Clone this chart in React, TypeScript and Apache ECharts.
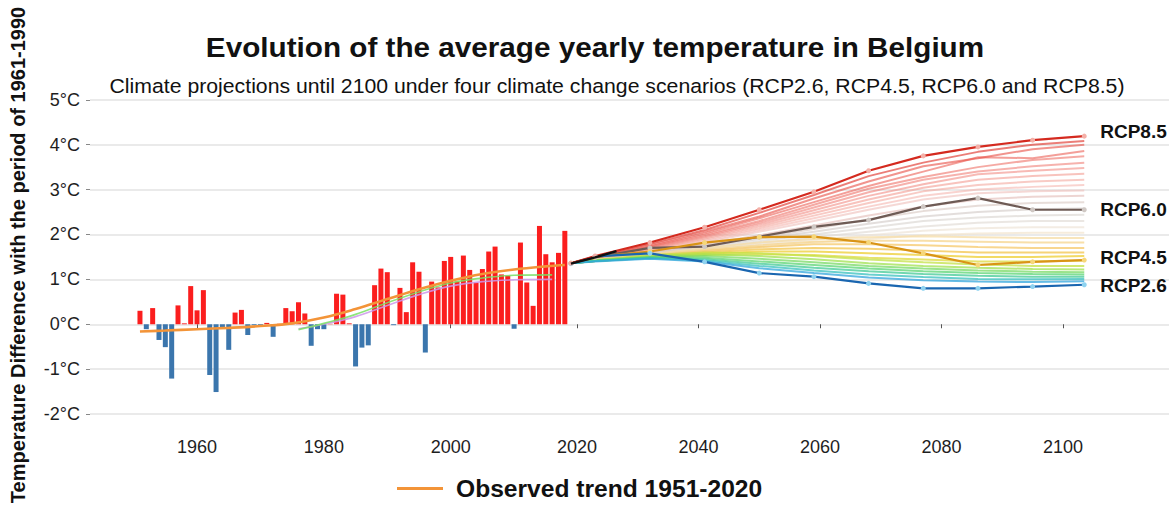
import React, { useEffect, useRef } from 'react';
import * as echarts from 'echarts';

const FONT = '"Liberation Sans", Arial, Helvetica, sans-serif';

// Observed yearly anomalies (°C vs 1961-1990)
const obsYears = [
  1951, 1952, 1953, 1954, 1955, 1956, 1957, 1958, 1959, 1960,
  1961, 1962, 1963, 1964, 1965, 1966, 1967, 1968, 1969, 1970,
  1971, 1972, 1973, 1974, 1975, 1976, 1977, 1978, 1979, 1980,
  1981, 1982, 1983, 1984, 1985, 1986, 1987, 1988, 1989, 1990,
  1991, 1992, 1993, 1994, 1995, 1996, 1997, 1998, 1999, 2000,
  2001, 2002, 2003, 2004, 2005, 2006, 2007, 2008, 2009, 2010,
  2011, 2012, 2013, 2014, 2015, 2016, 2017, 2018,
];
const obsAnomalies = [
  0.30, -0.11, 0.36, -0.35, -0.51, -1.21, 0.42, 0.02, 0.85, 0.31,
  0.76, -1.13, -1.51, -0.07, -0.57, 0.26, 0.32, -0.24, -0.02, -0.02,
  0.03, -0.28, 0.01, 0.36, 0.29, 0.49, 0.24, -0.48, -0.11, -0.11,
  0.01, 0.68, 0.66, 0.02, -0.94, -0.52, -0.47, 0.87, 1.24, 1.16,
  -0.02, 0.81, 0.27, 1.38, 1.17, -0.63, 0.95, 0.82, 1.41, 1.50,
  0.95, 1.53, 1.21, 0.93, 1.23, 1.62, 1.73, 1.11, 1.08, -0.10,
  1.82, 0.93, 0.41, 2.19, 1.56, 1.38, 1.59, 2.08,
];

// Observed trend (smoothed)
const trendYears = [1951, 1955, 1960, 1965, 1970, 1975, 1980, 1985, 1990, 1995, 2000, 2005, 2010, 2015, 2018];
const trendValues = [-0.16, -0.14, -0.11, -0.08, -0.04, 0.02, 0.15, 0.34, 0.56, 0.78, 0.97, 1.12, 1.22, 1.29, 1.32];

// Faint alternative trend estimates
const altTrendYears = [1976, 1980, 1985, 1990, 1995, 2000, 2005, 2010, 2016];
const altTrendGreen = [-0.12, 0.02, 0.22, 0.48, 0.72, 0.92, 1.03, 1.09, 1.10];
const altTrendPurple = [-0.10, 0.00, 0.17, 0.42, 0.66, 0.85, 0.95, 0.99, 1.00];

// Projections
const projYears = [2019, 2023, 2032, 2041, 2050, 2059, 2068, 2077, 2086, 2095, 2103.5];
const rcp85 = [1.36, 1.52, 1.82, 2.16, 2.55, 2.95, 3.42, 3.75, 3.95, 4.10, 4.19];
const rcp60 = [1.36, 1.49, 1.70, 1.73, 1.95, 2.17, 2.32, 2.62, 2.81, 2.55, 2.55];
const rcp45 = [1.36, 1.50, 1.62, 1.82, 1.94, 1.95, 1.82, 1.58, 1.32, 1.39, 1.43];
const rcp26 = [1.35, 1.51, 1.58, 1.39, 1.14, 1.06, 0.91, 0.80, 0.80, 0.84, 0.88];

const startYears = [2019, 2023, 2026.5];
const startValues = [1.35, 1.49, 1.63];

const rcp85Members = [
  [1.36, 1.50, 1.79, 2.10, 2.48, 2.88, 3.30, 3.60, 3.84, 4.00, 4.08],
  [1.36, 1.49, 1.76, 2.06, 2.40, 2.80, 3.18, 3.52, 3.70, 3.90, 4.00],
  [1.36, 1.48, 1.73, 2.02, 2.36, 2.72, 3.08, 3.40, 3.72, 3.70, 3.86],
  [1.36, 1.47, 1.72, 1.99, 2.30, 2.66, 3.02, 3.28, 3.50, 3.66, 3.74],
  [1.36, 1.47, 1.70, 1.96, 2.26, 2.60, 2.94, 3.22, 3.40, 3.52, 3.60],
  [1.36, 1.46, 1.68, 1.94, 2.22, 2.54, 2.86, 3.12, 3.34, 3.42, 3.48],
  [1.36, 1.45, 1.66, 1.91, 2.18, 2.48, 2.78, 3.04, 3.22, 3.30, 3.35],
  [1.36, 1.45, 1.65, 1.88, 2.14, 2.42, 2.70, 2.96, 3.10, 3.18, 3.22],
  [1.36, 1.44, 1.63, 1.85, 2.10, 2.36, 2.62, 2.86, 3.00, 3.06, 3.10],
  [1.36, 1.44, 1.61, 1.82, 2.06, 2.30, 2.55, 2.78, 2.92, 2.96, 2.98],
];
const rcp60Members = [
  [1.36, 1.44, 1.60, 1.78, 1.98, 2.20, 2.42, 2.62, 2.78, 2.84, 2.86],
  [1.36, 1.43, 1.58, 1.75, 1.93, 2.12, 2.34, 2.52, 2.64, 2.70, 2.72],
  [1.36, 1.43, 1.57, 1.72, 1.90, 2.06, 2.24, 2.40, 2.50, 2.56, 2.58],
  [1.36, 1.42, 1.55, 1.69, 1.85, 2.00, 2.15, 2.30, 2.38, 2.42, 2.44],
  [1.36, 1.42, 1.54, 1.67, 1.81, 1.94, 2.06, 2.18, 2.26, 2.30, 2.30],
  [1.36, 1.41, 1.53, 1.65, 1.77, 1.88, 1.98, 2.08, 2.14, 2.16, 2.16],
  [1.36, 1.41, 1.52, 1.62, 1.72, 1.82, 1.90, 1.98, 2.02, 2.04, 2.04],
];
const rcp45Members = [
  [1.36, 1.43, 1.56, 1.70, 1.82, 1.90, 1.94, 1.96, 1.94, 1.92, 1.92],
  [1.36, 1.42, 1.54, 1.66, 1.76, 1.84, 1.86, 1.86, 1.84, 1.82, 1.82],
  [1.36, 1.42, 1.52, 1.63, 1.72, 1.78, 1.78, 1.76, 1.72, 1.70, 1.70],
  [1.36, 1.41, 1.50, 1.60, 1.67, 1.70, 1.68, 1.64, 1.60, 1.60, 1.60],
  [1.36, 1.41, 1.49, 1.57, 1.62, 1.62, 1.58, 1.54, 1.50, 1.50, 1.52],
  [1.36, 1.41, 1.48, 1.54, 1.56, 1.54, 1.48, 1.44, 1.40, 1.40, 1.42],
];
const rcp26Members = [
  [1.36, 1.43, 1.54, 1.60, 1.58, 1.52, 1.44, 1.38, 1.33, 1.30, 1.30],
  [1.36, 1.42, 1.52, 1.56, 1.52, 1.45, 1.36, 1.30, 1.26, 1.23, 1.22],
  [1.36, 1.42, 1.50, 1.52, 1.46, 1.38, 1.30, 1.24, 1.20, 1.17, 1.16],
  [1.36, 1.41, 1.49, 1.48, 1.40, 1.32, 1.24, 1.18, 1.14, 1.12, 1.11],
  [1.36, 1.41, 1.48, 1.45, 1.35, 1.26, 1.18, 1.12, 1.08, 1.06, 1.06],
  [1.36, 1.41, 1.47, 1.42, 1.30, 1.20, 1.11, 1.05, 1.01, 1.00, 1.01],
  [1.36, 1.40, 1.46, 1.40, 1.25, 1.14, 1.04, 0.98, 0.95, 0.94, 0.96],
];

const yTicks = [-2, -1, 0, 1, 2, 3, 4, 5];
const xTicksObs = [1960, 1980, 2000];
const xTicksProj = [2020, 2040, 2060, 2080, 2100];

const rcp85Colors = ['rgba(222,40,30,0.6)', 'rgba(230,60,50,0.55)', 'rgba(234,80,70,0.55)', 'rgba(236,100,90,0.55)', 'rgba(238,115,105,0.55)', 'rgba(240,130,120,0.55)', 'rgba(242,145,135,0.55)', 'rgba(243,160,150,0.55)', 'rgba(244,175,168,0.55)', 'rgba(238,190,185,0.6)'];
const rcp60Colors = ['rgba(225,185,180,0.6)', 'rgba(215,198,192,0.6)', 'rgba(208,200,196,0.6)', 'rgba(215,210,205,0.6)', 'rgba(225,218,212,0.65)', 'rgba(236,226,212,0.65)', 'rgba(242,228,205,0.7)'];
const rcp45Colors = ['rgba(246,220,165,0.75)', 'rgba(246,212,140,0.75)', 'rgba(245,200,105,0.75)', 'rgba(243,196,75,0.75)', 'rgba(238,205,50,0.75)', 'rgba(222,218,60,0.75)'];
const rcp26Colors = ['rgba(195,225,70,0.75)', 'rgba(160,225,80,0.75)', 'rgba(120,218,100,0.75)', 'rgba(90,212,115,0.75)', 'rgba(65,202,150,0.75)', 'rgba(55,192,190,0.75)', 'rgba(50,165,220,0.75)'];

const pairs = (xs: number[], ys: number[]) => xs.map((x, i) => [x, ys[i]]);

function memberSeries(members: number[][], colors: string[]) {
  return members.map((vals, i) => ({
    type: 'line',
    xAxisIndex: 1,
    yAxisIndex: 1,
    data: pairs(projYears, vals),
    showSymbol: false,
    silent: true,
    lineStyle: { color: colors[i % colors.length], width: 2 },
    z: 3,
  }));
}

function mainSeries(name: string, vals: number[], color: string, dot: string, offsetY: number) {
  return {
    type: 'line',
    name,
    xAxisIndex: 1,
    yAxisIndex: 1,
    data: pairs(projYears, vals),
    showSymbol: true,
    symbol: 'circle',
    symbolSize: 5,
    itemStyle: { color: dot, borderWidth: 0 },
    lineStyle: { color, width: 2.2 },
    z: 5,
    endLabel: {
      show: true,
      formatter: name,
      distance: 16,
      offset: [0, offsetY],
      fontFamily: FONT,
      fontSize: 19,
      fontWeight: 'bold',
      color: '#111',
    },
  };
}

export default function App() {
  const ref = useRef<HTMLDivElement>(null);
  useEffect(() => {
    if (!ref.current) return;
    const chart = echarts.init(ref.current, undefined, { renderer: 'svg' });
    const gridTop = 90.8;
    const gridHeight = 341.2;
    const yMin = -2.4;
    const yMax = 5.2;
    const splitLine = { show: true, lineStyle: { color: '#e3e3e3', width: 1.5 } };
    const xLabel = { fontFamily: FONT, fontSize: 18, color: '#1e1e1e', margin: 6, formatter: (v: number) => String(v) };
    const option: any = {
      animation: false,
      backgroundColor: '#ffffff',
      textStyle: { fontFamily: FONT },
      grid: [
        { left: 90, top: gridTop, width: 478, height: gridHeight },
        { left: 568, top: gridTop, width: 601, height: gridHeight },
      ],
      xAxis: [
        {
          gridIndex: 0, type: 'value', min: 1943.12, max: 2018.5,
          axisLine: { show: false },
          axisTick: { show: true, length: 4, customValues: xTicksObs, lineStyle: { color: '#555' } },
          axisLabel: { ...xLabel, customValues: xTicksObs },
          splitLine: { show: false },
        },
        {
          gridIndex: 1, type: 'value', min: 2018.52, max: 2117.45,
          axisLine: { show: false },
          axisTick: { show: true, length: 4, customValues: xTicksProj, lineStyle: { color: '#555' } },
          axisLabel: { ...xLabel, customValues: xTicksProj },
          splitLine: { show: false },
        },
      ],
      yAxis: [
        {
          gridIndex: 0, type: 'value', min: yMin, max: yMax,
          axisLine: { show: false },
          axisTick: { show: true, length: 4, customValues: yTicks, lineStyle: { color: '#888' } },
          axisLabel: {
            customValues: yTicks, fontFamily: FONT, fontSize: 18, color: '#1e1e1e', margin: 10,
            formatter: (v: number) => `${v}°C`,
          },
          splitLine,
        },
        {
          gridIndex: 1, type: 'value', min: yMin, max: yMax,
          axisLine: { show: false },
          axisTick: { show: false, customValues: yTicks },
          axisLabel: { show: false, customValues: yTicks },
          splitLine,
        },
      ],
      legend: {
        data: ['Observed trend 1951-2020'],
        left: 397,
        top: 476,
        padding: 0,
        icon: 'rect',
        itemWidth: 46,
        itemHeight: 3,
        selectedMode: false,
        textStyle: { fontFamily: FONT, fontSize: 24.6, fontWeight: 'bold', color: '#111', padding: [0, 0, 0, 8] },
      },
      graphic: [
        {
          type: 'text', x: 595, y: 47, scaleX: 1.06,
          style: { text: 'Evolution of the average yearly temperature in Belgium', font: `bold 28px ${FONT}`, fill: '#111', align: 'center', verticalAlign: 'middle' },
        },
        {
          type: 'text', x: 617, y: 86, scaleX: 1.09,
          style: { text: 'Climate projections until 2100 under four climate change scenarios (RCP2.6, RCP4.5, RCP6.0 and RCP8.5)', font: `19.5px ${FONT}`, fill: '#111', align: 'center', verticalAlign: 'middle' },
        },
        {
          type: 'text', x: 18, y: 255, rotation: Math.PI / 2,
          style: { text: 'Temperature Difference with the period of 1961-1990', font: `bold 20px ${FONT}`, fill: '#111', align: 'center', verticalAlign: 'middle' },
        },
      ],
      series: [
        {
          type: 'bar',
          name: 'Yearly anomaly',
          xAxisIndex: 0,
          yAxisIndex: 0,
          barWidth: 5,
          data: pairs(obsYears, obsAnomalies),
          itemStyle: { color: (p: any) => (p.value[1] >= 0 ? '#fb1e1e' : '#3b76ad') },
          z: 2,
        },
        {
          type: 'line', xAxisIndex: 0, yAxisIndex: 0, data: pairs(altTrendYears, altTrendPurple),
          smooth: 0.4, showSymbol: false, silent: true, lineStyle: { color: 'rgba(205,150,235,0.85)', width: 1.6 }, z: 3,
        },
        {
          type: 'line', xAxisIndex: 0, yAxisIndex: 0, data: pairs(altTrendYears, altTrendGreen),
          smooth: 0.4, showSymbol: false, silent: true, lineStyle: { color: 'rgba(120,225,100,0.85)', width: 1.6 }, z: 3,
        },
        {
          type: 'line',
          name: 'Observed trend 1951-2020',
          xAxisIndex: 0,
          yAxisIndex: 0,
          data: pairs(trendYears, trendValues),
          smooth: 0.4,
          showSymbol: false,
          itemStyle: { color: '#f39438' },
          lineStyle: { color: '#f39438', width: 2.6 },
          z: 4,
        },
        ...memberSeries(rcp85Members, rcp85Colors),
        ...memberSeries(rcp60Members, rcp60Colors),
        ...memberSeries(rcp45Members, rcp45Colors),
        ...memberSeries(rcp26Members, rcp26Colors),
        mainSeries('RCP6.0', rcp60, '#6e5b55', '#cfc8c4', 0),
        mainSeries('RCP4.5', rcp45, '#d99416', '#f6d77a', -3),
        mainSeries('RCP2.6', rcp26, '#1a66b0', '#8fd3f0', 1),
        mainSeries('RCP8.5', rcp85, '#d42a1f', '#f4b0a8', -5),
        {
          type: 'line', xAxisIndex: 1, yAxisIndex: 1, data: pairs(startYears, startValues),
          showSymbol: false, silent: true, lineStyle: { color: '#111', width: 2.5 }, z: 6,
        },
      ],
    };
    chart.setOption(option);
    return () => chart.dispose();
  }, []);
  return (
    <div
      ref={ref}
      style={{ position: 'fixed', left: 0, top: 0, width: 1169, height: 507, background: '#fff' }}
    />
  );
}
